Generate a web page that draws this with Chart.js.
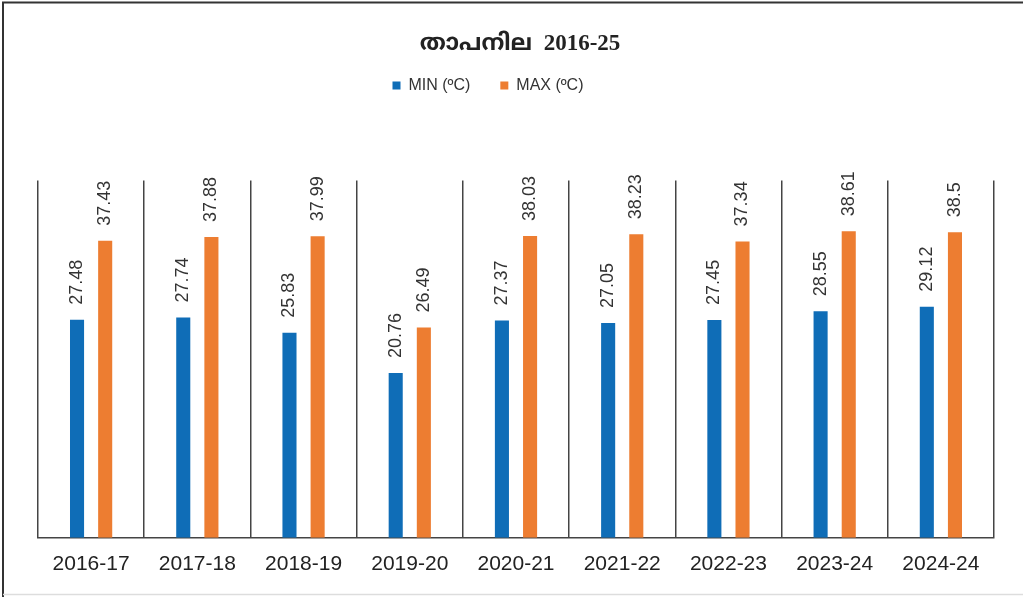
<!DOCTYPE html>
<html>
<head>
<meta charset="utf-8">
<script src="https://cdn.jsdelivr.net/npm/chart.js@4.4.1/dist/chart.umd.min.js"></script>
<style>
html,body{margin:0;padding:0;background:#fff;}
#wrap{width:1023px;height:597px;position:relative;}
</style>
</head>
<body>
<div id="wrap"><canvas id="c" width="1023" height="597"></canvas></div>
<script>
const categories = ['2016-17','2017-18','2018-19','2019-20','2020-21','2021-22','2022-23','2023-24','2024-24'];
const minValues = [27.48, 27.74, 25.83, 20.76, 27.37, 27.05, 27.45, 28.55, 29.12];
const maxValues = [37.43, 37.88, 37.99, 26.49, 38.03, 38.23, 37.34, 38.61, 38.5];
const seriesNames = ['MIN (ºC)', 'MAX (ºC)'];
const titleText = 'താപനില  2016-25';

const frame = {
  id: 'frame',
  beforeDraw(chart) {
    const ctx = chart.ctx;
    ctx.save();
    ctx.fillStyle = '#fff';
    ctx.fillRect(0, 0, chart.width, chart.height);
    ctx.strokeStyle = '#333';
    ctx.lineWidth = 2;
    ctx.beginPath();
    ctx.moveTo(3, 597); ctx.lineTo(3, 2.5); ctx.lineTo(1023, 2.5);
    ctx.stroke();
    ctx.strokeStyle = '#ddd';
    ctx.lineWidth = 1.5;
    ctx.beginPath();
    ctx.moveTo(3, 594.5); ctx.lineTo(1023, 594.5);
    ctx.stroke();
    ctx.restore();
  }
};

const spacer = {
  id: 'spacer',
  beforeLayout(chart) {
    const lg = chart.legend;
    if (lg && !lg._wrapped) {
      const f = lg.fit;
      lg.fit = function () { f.call(this); this.height += 77; };
      lg._wrapped = true;
    }
  },
  afterLayout(chart) {
    const lg = chart.legend;
    if (lg) { lg.left -= 28; lg.right -= 28; }
    const tt = chart.titleBlock;
    if (tt) { tt.left += 4; tt.right += 4; }
  }
};

const valueLabels = {
  id: 'valueLabels',
  afterDatasetsDraw(chart) {
    const ctx = chart.ctx;
    ctx.save();
    ctx.font = '18px "Liberation Sans", Arial, sans-serif';
    ctx.fillStyle = '#333';
    ctx.textAlign = 'left';
    ctx.textBaseline = 'middle';
    chart.data.datasets.forEach((ds, di) => {
      const meta = chart.getDatasetMeta(di);
      meta.data.forEach((bar, i) => {
        ctx.save();
        ctx.translate(bar.x, bar.y - 15);
        ctx.rotate(-Math.PI / 2);
        ctx.fillText(String(ds.data[i]), 0, 0);
        ctx.restore();
      });
    });
    ctx.restore();
  }
};

new Chart(document.getElementById('c'), {
  type: 'bar',
  data: {
    labels: categories,
    datasets: [
      { label: seriesNames[0], data: minValues, backgroundColor: '#0F6DB7', barPercentage: 0.5, categoryPercentage: 0.53 },
      { label: seriesNames[1], data: maxValues, backgroundColor: '#ED7D31', barPercentage: 0.5, categoryPercentage: 0.53 }
    ]
  },
  options: {
    responsive: false,
    animation: false,
    devicePixelRatio: 1,
    layout: { padding: { left: 38, right: 29, top: 0, bottom: 6 } },
    plugins: {
      title: {
        display: true,
        text: titleText,
        color: '#222',
        font: { family: '"Liberation Serif", "Noto Sans Malayalam", serif', size: 23, weight: 'bold' },
        padding: { top: 30, bottom: -10 }
      },
      legend: {
        display: true,
        position: 'top',
        labels: {
          boxWidth: 8, boxHeight: 8, padding: 30, color: '#333',
          font: { family: '"Liberation Sans", Arial, sans-serif', size: 16 }
        }
      },
      tooltip: { enabled: false }
    },
    scales: {
      x: {
        grid: { display: true, offset: true, color: '#444', lineWidth: 1.5, drawTicks: false },
        border: { display: true, color: '#444', width: 1.5 },
        ticks: { color: '#222', padding: 14, font: { family: '"Liberation Sans", Arial, sans-serif', size: 21 } }
      },
      y: {
        display: false,
        min: 0, max: 45
      }
    }
  },
  plugins: [frame, spacer, valueLabels]
});
</script>
</body>
</html>
